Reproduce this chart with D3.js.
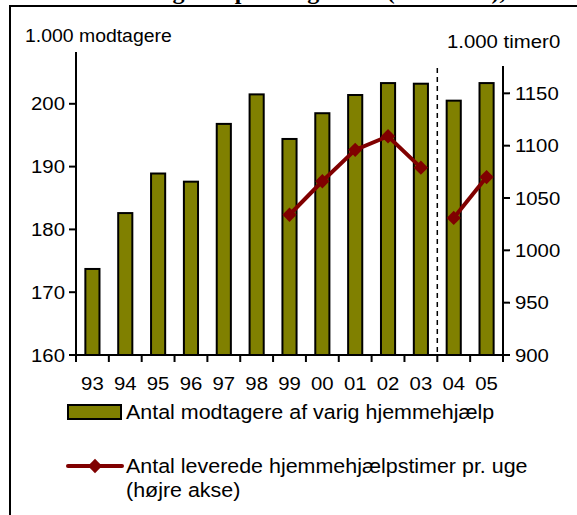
<!DOCTYPE html>
<html>
<head>
<meta charset="utf-8">
<script src="https://cdn.jsdelivr.net/npm/d3@7"></script>
<style>
  body { margin: 0; background: #fff; }
  text { font-family: "Liberation Sans", Arial, sans-serif; font-size: 18.5px; fill: #000; }
  .legend text { font-size: 19.5px; }
</style>
</head>
<body>
<div id="chart-area"></div>
<script>

var width = 577,
    height = 515;

// data
var years = ["93", "94", "95", "96", "97", "98", "99", "00", "01", "02", "03", "04", "05"];
var modtagere = [173.7, 182.6, 188.9, 187.6, 196.8, 201.5, 194.4, 198.5, 201.4, 203.3, 203.2, 200.5, 203.3];
var timer = [null, null, null, null, null, null, 1034, 1066, 1096, 1109, 1079, 1031, 1070];
var brudEfter = "03";   // data break (dashed line)
var leftTicks = [160, 170, 180, 190, 200, 210];
var rightTicks = [900, 950, 1000, 1050, 1100, 1150, 1200];

var olive = "#808000",
    darkred = "#800000",
    sx = 1.1;   // the original text is a bit wide

var svg = d3.select("#chart-area").append("svg")
    .attr("width", width)
    .attr("height", height);

// helper for stretched text
function txt(g, x, y, s, anchor) {
  return g.append("text")
    .attr("transform", "translate(" + x + "," + y + ") scale(" + sx + ",1)")
    .attr("text-anchor", anchor || "start")
    .text(s);
}

// clipped title at the very top
svg.append("text")
    .attr("x", 305)
    .attr("y", -1)
    .attr("text-anchor", "middle")
    .style("font-family", "'Liberation Serif', 'Times New Roman', serif")
    .style("font-weight", "bold")
    .style("font-size", "24px")
    .text("Modtagere i plads og timer (1.000 stk.),");

// frame
svg.append("rect")
    .attr("x", 10).attr("y", 6)
    .attr("width", 620).attr("height", 520)
    .attr("fill", "none")
    .attr("stroke", "#000")
    .attr("stroke-width", 2);

var x = d3.scaleBand()
    .domain(years)
    .range([76, 503])
    .paddingInner(0.57)
    .paddingOuter(0.285);

var y1 = d3.scaleLinear().domain([160, 210]).range([355, 41]);
var y2 = d3.scaleLinear().domain([900, 1200]).range([355, 41]);

// bars
svg.append("g").selectAll("rect")
    .data(years)
    .enter()
    .append("rect")
    .attr("x", d => x(d))
    .attr("width", x.bandwidth())
    .attr("y", (d, i) => y1(modtagere[i]))
    .attr("height", (d, i) => y1(160) - y1(modtagere[i]))
    .attr("fill", olive)
    .attr("stroke", "#000")
    .attr("stroke-width", 2);

// dashed break line
var xBrud = x(brudEfter) + x.bandwidth() + x.step() * x.paddingInner() / 2;
svg.append("line")
    .attr("x1", xBrud).attr("x2", xBrud)
    .attr("y1", y1(210)).attr("y2", y1(160))
    .attr("stroke", "#000")
    .attr("stroke-width", 1.5)
    .attr("stroke-dasharray", "5,4");

// line series, split at the break
var pts = years.map((d, i) => ({year: d, v: timer[i], i: i}))
    .filter(d => d.v != null);
var iBrud = years.indexOf(brudEfter);
var segments = [pts.filter(d => d.i <= iBrud), pts.filter(d => d.i > iBrud)];

var line = d3.line()
    .x(d => x(d.year) + x.bandwidth() / 2)
    .y(d => y2(d.v));

svg.append("g").selectAll("path")
    .data(segments)
    .enter()
    .append("path")
    .attr("d", line)
    .attr("fill", "none")
    .attr("stroke", darkred)
    .attr("stroke-width", 4);

var diamond = d3.symbol().type(d3.symbolDiamond2).size(130);
svg.append("g").selectAll("path")
    .data(pts)
    .enter()
    .append("path")
    .attr("d", diamond)
    .attr("transform", d => "translate(" + (x(d.year) + x.bandwidth() / 2) + "," + y2(d.v) + ")")
    .attr("fill", darkred);

// left axis (top tick sits under the unit label)
var gl = svg.append("g").attr("transform", "translate(76,0)");
gl.append("line").attr("y1", y1(210)).attr("y2", y1(160))
    .attr("stroke", "#000").attr("stroke-width", 2);
leftTicks.forEach(function(t) {
  gl.append("line").attr("x1", -7).attr("x2", 0)
      .attr("y1", y1(t)).attr("y2", y1(t))
      .attr("stroke", "#000").attr("stroke-width", 2);
  if (t < 210) txt(gl, -11, y1(t) + 6.5, t, "end");
});

// right axis
var gr = svg.append("g").attr("transform", "translate(503,0)");
gr.append("line").attr("y1", y2(1200)).attr("y2", y2(900))
    .attr("stroke", "#000").attr("stroke-width", 2);
rightTicks.forEach(function(t) {
  gr.append("line").attr("x1", 0).attr("x2", 7)
      .attr("y1", y2(t)).attr("y2", y2(t))
      .attr("stroke", "#000").attr("stroke-width", 2);
  if (t < 1200) txt(gr, 12, y2(t) + 6.5, t, "start");
});
// only the last digit of the top label peeks out beside the unit label
var last = String(rightTicks[rightTicks.length - 1]);
txt(gr, 12 + 3 * 11.3, y2(1200) + 6.5, last.slice(-1), "start");

// x axis with ticks on the band edges
var gx = svg.append("g");
gx.append("line").attr("x1", 76).attr("x2", 503)
    .attr("y1", 355).attr("y2", 355)
    .attr("stroke", "#000").attr("stroke-width", 2);
var edges = years.map(d => x(d) - x.step() * x.paddingInner() / 2).concat([503]);
edges.forEach(function(e) {
  gx.append("line").attr("x1", e).attr("x2", e)
      .attr("y1", 355).attr("y2", 362)
      .attr("stroke", "#000").attr("stroke-width", 2);
});
years.forEach(function(d) {
  txt(gx, x(d) + x.bandwidth() / 2, 390, d, "middle");
});

// unit labels sit on white boxes that hide the axis tops
svg.append("rect").attr("x", 20).attr("y", 20).attr("width", 155).attr("height", 32).attr("fill", "#fff");
txt(svg, 25, 42, "1.000 modtagere").attr("transform", "translate(25,42) scale(1.05,1)");
svg.append("rect").attr("x", 432).attr("y", 28).attr("width", 114).attr("height", 38).attr("fill", "#fff");
txt(svg, 447, 48, "1.000 timer");

// legend
var lg = svg.append("g").attr("class", "legend");
lg.append("rect")
    .attr("x", 68).attr("y", 405)
    .attr("width", 53).attr("height", 14)
    .attr("fill", olive)
    .attr("stroke", "#000")
    .attr("stroke-width", 2);
txt(lg, 126, 419, "Antal modtagere af varig hjemmehjælp");

lg.append("line")
    .attr("x1", 68).attr("x2", 122)
    .attr("y1", 466).attr("y2", 466)
    .attr("stroke", darkred)
    .attr("stroke-width", 4)
    .attr("stroke-linecap", "round");
lg.append("path")
    .attr("d", diamond)
    .attr("transform", "translate(95,466)")
    .attr("fill", darkred);
txt(lg, 126, 473, "Antal leverede hjemmehjælpstimer pr. uge");
txt(lg, 126, 497, "(højre akse)");

</script>
</body>
</html>
